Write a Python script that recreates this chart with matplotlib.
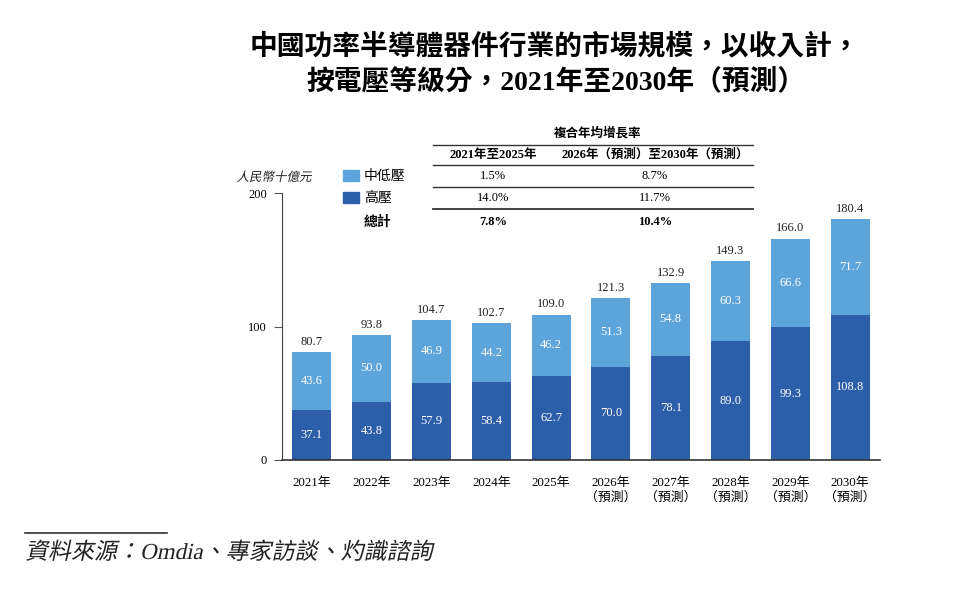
import matplotlib.pyplot as plt
from matplotlib.lines import Line2D
from matplotlib.patches import Rectangle, PathPatch
from matplotlib.textpath import TextPath
from matplotlib.font_manager import FontProperties
from matplotlib.transforms import Affine2D
import numpy as np

# data
years = ['2021年', '2022年', '2023年', '2024年', '2025年',
         '2026年\n（預測）', '2027年\n（預測）', '2028年\n（預測）',
         '2029年\n（預測）', '2030年\n（預測）']
high_voltage = [37.1, 43.8, 57.9, 58.4, 62.7, 70.0, 78.1, 89.0, 99.3, 108.8]
mid_low_voltage = [43.6, 50.0, 46.9, 44.2, 46.2, 51.3, 54.8, 60.3, 66.6, 71.7]
totals = [80.7, 93.8, 104.7, 102.7, 109.0, 121.3, 132.9, 149.3, 166.0, 180.4]

cagr_head = ['2021年至2025年', '2026年（預測）至2030年（預測）']
cagr_rows = [('中低壓', '1.5%', '8.7%'),
             ('高壓', '14.0%', '11.7%'),
             ('總計', '7.8%', '10.4%')]

light = '#5DA4DA'
dark = '#2D5EAA'
fam = ['Liberation Serif', 'Noto Sans CJK TC']
cjk = ['Noto Sans CJK TC', 'Liberation Serif']
plt.rcParams['font.family'] = fam

W, H = 961, 589
fig = plt.figure(figsize=(W / 100, H / 100), dpi=100)


def px(x, y):
    return x / W, 1 - y / H


def ftext(x, y, s, **kw):
    fig.text(*px(x, y), s, **kw)


def fline(x0, x1, y, lw=1.0):
    fig.add_artist(Line2D([x0 / W, x1 / W], [1 - y / H, 1 - y / H],
                          color='#333333', lw=lw, transform=fig.transFigure))


def slanted(x, y_base, s, size_px, family, align='left', color='#222222'):
    # fake italic for CJK glyphs: skewed text path, coords in output pixels
    tp = TextPath((0, 0), s, size=size_px, prop=FontProperties(family=family))
    ext = tp.get_extents()
    if align == 'center':
        x = x - (ext.x0 + ext.x1) / 2
    tr = (Affine2D().skew_deg(12, 0).translate(x, H - y_base)
          .scale(1 / W, 1 / H) + fig.transFigure)
    fig.add_artist(PathPatch(tp, transform=tr, color=color, lw=0))


ax = fig.add_axes([282 / W, 1 - 460 / H, (880 - 282) / W, (460 - 193) / H])
x = np.arange(len(years))
ax.bar(x, high_voltage, width=0.65, color=dark)
ax.bar(x, mid_low_voltage, width=0.65, bottom=high_voltage, color=light)

for i in range(len(years)):
    ax.text(x[i], high_voltage[i] / 2, f'{high_voltage[i]:.1f}', ha='center',
            va='center', color='white', fontsize=9, family=fam)
    ax.text(x[i], high_voltage[i] + mid_low_voltage[i] / 2, f'{mid_low_voltage[i]:.1f}',
            ha='center', va='center', color='white', fontsize=9, family=fam)
    ax.text(x[i], totals[i] + 3, f'{totals[i]:.1f}', ha='center', va='bottom',
            color='#222222', fontsize=9, family=fam)

ax.set_xlim(-0.5, 9.5)
ax.set_ylim(0, 200)
ax.set_yticks([0, 100, 200])
ax.set_xticks(x)
ax.set_xticklabels(years, fontsize=9.3, family=fam, linespacing=1.3)
ax.tick_params(axis='x', length=0, pad=12)
ax.tick_params(axis='y', length=6, color='#555555', labelsize=9, pad=5)
for lab in ax.get_yticklabels():
    lab.set_family(fam)
for s in ['top', 'right']:
    ax.spines[s].set_visible(False)
ax.spines['left'].set_color('#444444')
ax.spines['bottom'].set_color('#333333')
ax.spines['bottom'].set_linewidth(1.2)

# title
ftext(555, 47, '中國功率半導體器件行業的市場規模，以收入計，', ha='center', va='center',
      fontsize=20, weight='bold', family=fam)
ftext(556, 82, '按電壓等級分，2021年至2030年（預測）', ha='center', va='center',
      fontsize=20, weight='bold', family=fam)

# y unit label
slanted(274, 181, '人民幣十億元', 12.5, cjk, align='center')

# legend
fig.add_artist(Rectangle(px(343, 181), 16 / W, 11 / H, color=light, transform=fig.transFigure))
fig.add_artist(Rectangle(px(343, 203), 16 / W, 11 / H, color=dark, transform=fig.transFigure))

# CAGR table
ftext(598, 133, '複合年均增長率', ha='center', va='center', fontsize=9,
      weight='bold', family=cjk)
fline(433, 753, 145)
ftext(493, 155, cagr_head[0], ha='center', va='center', fontsize=9, weight='bold', family=fam)
ftext(655, 155, cagr_head[1], ha='center', va='center', fontsize=9, weight='bold', family=fam)
fline(433, 753, 165)
row_y = [176, 198, 222]
for (name, a, b), yy in zip(cagr_rows, row_y):
    bold = 'bold' if name == '總計' else 'normal'
    ftext(364, yy, name, ha='left', va='center', fontsize=10, weight=bold, family=cjk)
    ftext(493, yy, a, ha='center', va='center', fontsize=9, weight=bold, family=fam)
    ftext(655, yy, b, ha='center', va='center', fontsize=9, weight=bold, family=fam)
fline(433, 753, 187)
fline(433, 753, 209, lw=1.3)

# source
fline(25, 167, 533, lw=1.2)
slanted(25, 559, '資料來源：Omdia、專家訪談、灼識諮詢', 23, fam)

fig.savefig('out.png', dpi=100)
